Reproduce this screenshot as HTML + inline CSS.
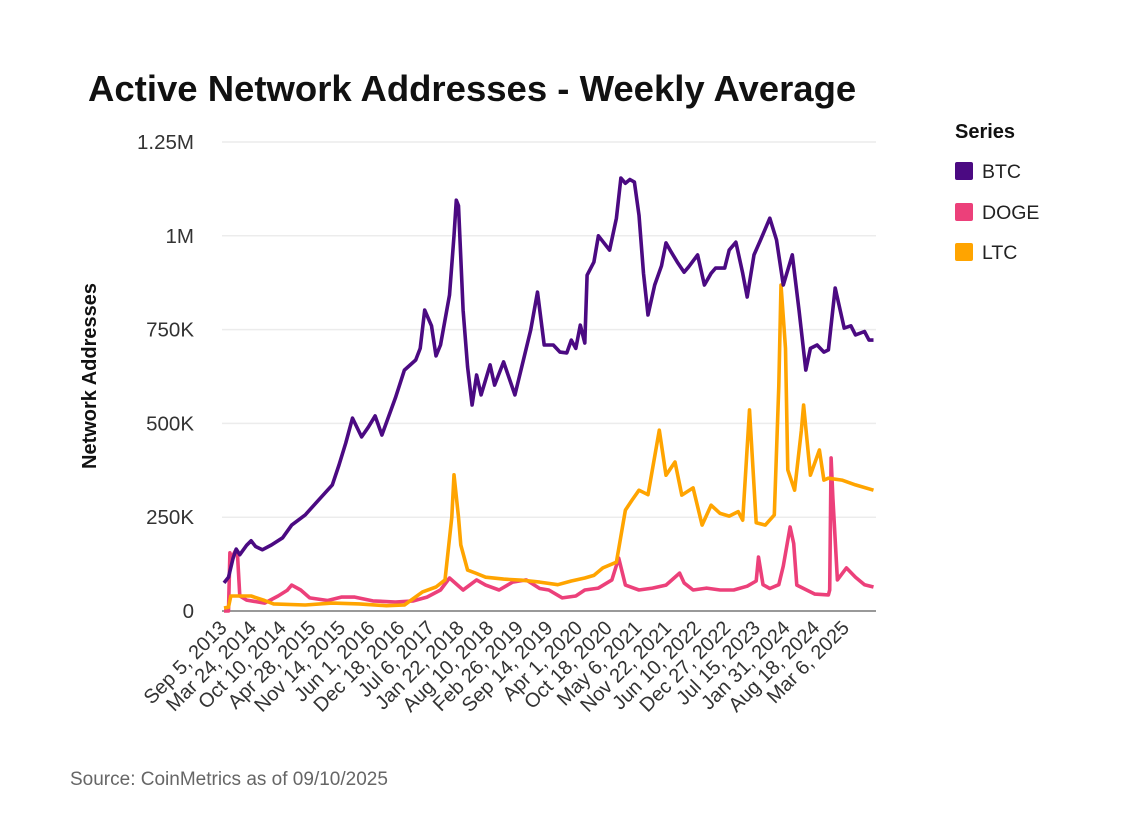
<!DOCTYPE html>
<html><head><meta charset="utf-8"><style>
body{margin:0;background:#fff;width:1121px;height:822px;overflow:hidden;font-family:"Liberation Sans",sans-serif}
</style></head><body>
<svg id="chart" width="1121" height="822" xmlns="http://www.w3.org/2000/svg" style="font-family:'Liberation Sans',sans-serif">
<text x="88" y="101" font-size="36.5" font-weight="bold" fill="#111">Active Network Addresses - Weekly Average</text>
<g id="grid"></g>
<g id="yticks"></g>
<g id="xticks"></g>
<g id="lines"></g>
<text transform="translate(96,376) rotate(-90)" text-anchor="middle" font-size="20" font-weight="bold" fill="#111">Network Addresses</text>
<text x="955" y="138" font-size="20" font-weight="bold" fill="#111">Series</text>
<g><rect x="955" y="162" width="18" height="18" rx="2" fill="#4b0a82"/><text x="982" y="178" font-size="19.5" fill="#222">BTC</text></g>
<g><rect x="955" y="203" width="18" height="18" rx="2" fill="#ec407a"/><text x="982" y="219" font-size="19.5" fill="#222">DOGE</text></g>
<g><rect x="955" y="243" width="18" height="18" rx="2" fill="#ffa400"/><text x="982" y="259" font-size="19.5" fill="#222">LTC</text></g>
<text x="70" y="785" font-size="19" fill="#666">Source: CoinMetrics as of 09/10/2025</text>
</svg>
<script>
const yTicks=[0,250000,500000,750000,1000000,1250000];
const yTickLabels=["0","250K","500K","750K","1M","1.25M"];
const xTickLabels=["Sep 5, 2013","Mar 24, 2014","Oct 10, 2014","Apr 28, 2015","Nov 14, 2015","Jun 1, 2016","Dec 18, 2016","Jul 6, 2017","Jan 22, 2018","Aug 10, 2018","Feb 26, 2019","Sep 14, 2019","Apr 1, 2020","Oct 18, 2020","May 6, 2021","Nov 22, 2021","Jun 10, 2022","Dec 27, 2022","Jul 15, 2023","Jan 31, 2024","Aug 18, 2024","Mar 6, 2025"];
const xTickMonths=xTickLabels.map((d,i)=>i*200/30.44);
// months since Sep 2013, values in thousands
const btcMonths=[0,1,2,2.7,3.5,5,6,7,8.5,10.5,13,15,18,21,24,25.5,27,28.5,30.5,32,33.5,35,38,40,42.5,43.5,44.5,46,47,48,50,51,51.5,52,53,54,55,56,57,59,60,62,64.5,66,68,69.5,71,73,74.5,76,77,78,79,80,80.5,82,83,85.5,87,88,89,90,91,92,93,94,95.5,97,98,99,100.5,102,103,105,106.5,108,109,111,112,113.5,115,116,117.5,119,121,122.5,124,126,127.5,129,130,131.5,133,134,135.5,137.5,139,140,142,143,144];
const btcValues=[75,90,140,165,150,175,187,172,163,176,195,229,256,296,336,389,448,514,464,490,520,469,568,642,669,700,802,760,680,709,842,1000,1095,1080,802,650,549,629,576,656,602,664,576,650,749,850,709,709,690,688,722,700,762,714,895,930,1000,962,1047,1154,1140,1150,1143,1055,900,789,869,920,981,960,930,903,917,949,869,900,914,914,962,983,900,837,949,990,1047,989,869,949,800,642,700,709,690,696,861,754,760,736,745,722,722];
const dogeMonths=[0,1,1.3,1.6,2.5,3,3.5,5,9,12,14,15,17,19,23,26,29,33,38,42,45,48,50,53,56,58,61,64,67,70,72,75,78,80,83,86,87.5,89,92,95,98,101,102,104,107,110,113,116,118,118.5,119.5,121,123,124,125.5,126.3,127,131,134,134.3,134.6,135,136,138,140,142,144];
const dogeValues=[0,0,155,140,160,150,40,29,21,40,55,69,56,35,28,37,37,27,24,27,37,56,88,56,83,69,56,77,83,60,56,35,40,56,61,83,141,69,56,61,69,101,75,56,61,56,56,66,80,144,70,60,70,120,224,180,69,45,43,56,408,300,83,115,90,70,64];
const ltcMonths=[0,1,1.5,2,6,9,11,18,24,30,36,40,44,47,49,50.5,51,52,52.5,54,56,58,62,66,70,74,77,80,82,84,87,89,90.5,92,94,96.5,98,100,101.5,104,106,108,110,112,114,115,116.5,118,120,122,123,123.5,124.5,125,126.5,128,128.5,130,132,133,134,137,140,144];
const ltcValues=[8,10,40,40,40,28,19,16,21,19,14,16,51,64,83,250,363,250,176,109,100,90,85,82,77,70,80,88,95,115,130,269,296,322,310,482,362,397,309,328,229,282,260,253,265,242,536,235,229,256,600,869,700,376,322,480,549,362,429,349,354,349,336,322];

const NS="http://www.w3.org/2000/svg";
const X0=224,X1=873.5,Y0=611,Y1=142;
const xs=m=>X0+m/144*(X1-X0);
const ys=v=>Y0-v/1250000*(Y0-Y1);
const grid=document.getElementById('grid'),yt=document.getElementById('yticks'),xt=document.getElementById('xticks'),lines=document.getElementById('lines');
yTicks.forEach((t,i)=>{
  const l=document.createElementNS(NS,'line');
  
  
  l.setAttribute('x1',222);l.setAttribute('x2',876);l.setAttribute('y1',ys(t));l.setAttribute('y2',ys(t));
  l.setAttribute('stroke',i==0?'#999':'#ececec');l.setAttribute('stroke-width',i==0?2:1.5);
  grid.appendChild(l);
  const tx=document.createElementNS(NS,'text');
  
  
  tx.setAttribute('x',194);tx.setAttribute('y',ys(t)+7);tx.setAttribute('text-anchor','end');
  tx.setAttribute('font-size','20.5');tx.setAttribute('fill','#333');tx.textContent=yTickLabels[i];
  yt.appendChild(tx);
});
xTickLabels.forEach((s,i)=>{
  const x=xs(xTickMonths[i]);
  const tx=document.createElementNS(NS,'text');
  
  
  tx.setAttribute('transform',`translate(${x+4},${629}) rotate(-45)`);
  tx.setAttribute('text-anchor','end');tx.setAttribute('font-size','20');tx.setAttribute('fill','#333');
  tx.textContent=s;xt.appendChild(tx);
});
function draw(ms,vs,color,name){
  const p=document.createElementNS(NS,'path');
  
  
  p.setAttribute('d',ms.map((m,i)=>(i?'L':'M')+xs(m).toFixed(1)+','+ys(vs[i]*1000).toFixed(1)).join(''));
  p.setAttribute('fill','none');p.setAttribute('stroke',color);p.setAttribute('stroke-width',3.6);p.setAttribute('stroke-linejoin','round');
  lines.appendChild(p);
}
draw(dogeMonths,dogeValues,'#ec407a','doge-line');
draw(ltcMonths,ltcValues,'#ffa400','ltc-line');
draw(btcMonths,btcValues,'#4b0a82','btc-line');
</script>
</body></html>
